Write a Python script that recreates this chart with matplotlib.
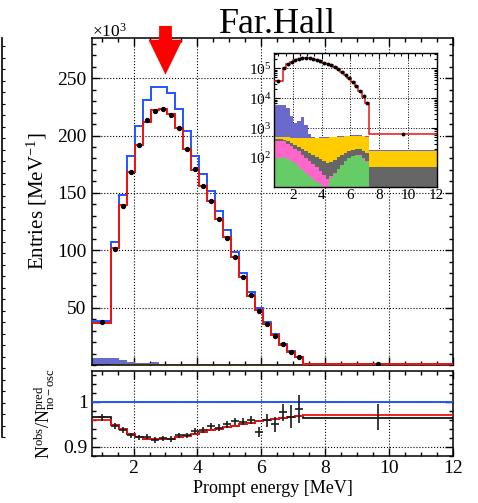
import numpy as np
import matplotlib
matplotlib.use('Agg')
import matplotlib.pyplot as plt
from matplotlib.ticker import MultipleLocator, FixedLocator, LogLocator, NullFormatter, NullLocator

plt.rcParams['font.family'] = ['Liberation Serif', 'DejaVu Serif']
plt.rcParams['mathtext.fontset'] = 'custom'
plt.rcParams['mathtext.rm'] = 'Liberation Serif'
plt.rcParams['mathtext.it'] = 'Liberation Serif:italic'
plt.rcParams['mathtext.bf'] = 'Liberation Serif:bold'

# prompt energy binning [MeV]
edges = [0.7, 1.3, 1.55, 1.8, 2.05, 2.3, 2.55, 2.8, 3.05, 3.3, 3.55, 3.8, 4.05, 4.3,
         4.55, 4.8, 5.05, 5.3, 5.55, 5.8, 6.05, 6.3, 6.55, 6.8, 7.05, 7.3, 12.0]

# entries per MeV, x10^3
pred_noosc = [38.5, 107, 148, 182, 208.5, 231, 242, 242.5, 237, 223.3, 203.6, 182.4, 166.8,
              151.4, 134.6, 117.5, 98.4, 80.4, 63.6, 50.0, 37.5, 26.8, 18.4, 11.8, 7.2, 0.67]
pred_osc = [37, 102, 139.3, 168.2, 192, 212, 222.5, 223, 219, 206.5, 188, 170.3, 156.3,
            143, 127.3, 111.4, 93.7, 76.8, 60.5, 47.8, 36.0, 26.0, 17.8, 11.4, 7.0, 0.65]
data_obs = [37.2, 101.2, 138.8, 168.5, 192.0, 213.2, 221.4, 222.9, 217.6, 206.8, 188.5, 170.5,
            156.4, 143.2, 126.9, 110.8, 94.2, 76.9, 61.1, 46.7, 36.0, 25.5, 18.1, 11.5, 7.1, 0.63]

# backgrounds, entries per MeV (stacked bottom to top)
bkg_green = [100, 110, 95, 80, 65, 50, 40, 32, 25, 20, 16, 13, 8, 7, 22, 30, 42, 58, 78, 98,
             115, 125, 120, 95, 75, 5]
bkg_pink = [280, 250, 205, 170, 135, 115, 90, 68, 55, 42, 32, 23, 19, 13, 2, 2, 2, 2, 2, 2,
            2, 2, 2, 2, 2, 1]
bkg_gray = [40, 40, 60, 70, 80, 75, 75, 75, 70, 66, 62, 56, 51, 50, 51, 56, 61, 65, 70, 70,
            73, 73, 73, 73, 68, 44]
bkg_yellow = [90, 120, 140, 160, 185, 215, 245, 275, 305, 332, 355, 378, 397, 410, 415, 412,
              405, 395, 380, 370, 360, 360, 365, 370, 375, 125]
bkg_acc = [5590, 5480, 4200, 2120, 1035, 1245, 1950, 800, 165, 30, 15, 15, 15, 15, 15, 15,
           15, 15, 15, 15, 15, 15, 15, 15, 15, 5]

# ratio panel
ratio_osc = [0.960, 0.949, 0.939, 0.928, 0.922, 0.918, 0.917, 0.917, 0.918, 0.921, 0.924,
             0.929, 0.933, 0.937, 0.940, 0.944, 0.947, 0.950, 0.954, 0.957, 0.960, 0.962,
             0.965, 0.967, 0.968, 0.970]
ratio_alt = [0.967, 0.949, 0.939, 0.928, 0.922, 0.918, 0.917, 0.917, 0.918, 0.921, 0.924,
             0.929, 0.933, 0.937, 0.940, 0.944, 0.947, 0.950, 0.954, 0.957, 0.960, 0.962,
             0.965, 0.967, 0.968, 0.965]
ratio_data = [0.966, 0.946, 0.9375, 0.926, 0.921, 0.923, 0.915, 0.919, 0.918, 0.926, 0.926,
              0.935, 0.9375, 0.946, 0.943, 0.950, 0.957, 0.956, 0.960, 0.933, 0.959, 0.950,
              0.977, 0.967, 0.985, 0.967]
ratio_err = [0.008, 0.006, 0.006, 0.006, 0.006, 0.006, 0.006, 0.006, 0.006, 0.006, 0.006,
             0.007, 0.007, 0.007, 0.007, 0.008, 0.008, 0.008, 0.009, 0.012, 0.015, 0.017,
             0.019, 0.026, 0.031, 0.029]

arrow_energy = 3.0

edges_a = np.array(edges)
centers = 0.5 * (edges_a[:-1] + edges_a[1:])
layers = [(bkg_green, '#66cc66'), (bkg_pink, '#ff66cc'), (bkg_gray, '#666666'),
          (bkg_yellow, '#ffcc00'), (bkg_acc, '#6a6acd')]


def draw_stack(a, scale):
    base = np.full(len(centers), 1e-3)
    for vals, col in layers:
        top = base + np.array(vals) / scale
        a.stairs(top, edges_a, baseline=base, fill=True, color=col, lw=0, zorder=2)
        base = top


fig = plt.figure(figsize=(4.78, 5.03), dpi=100)

# main panel
ax = fig.add_axes([0.1925, 0.2744, 0.7552, 0.6501])
draw_stack(ax, 1000.0)
ax.stairs(pred_noosc, edges_a, baseline=None, color='#2255ff', lw=1.4, zorder=3)
ax.stairs(pred_osc, edges_a, baseline=None, color='#ee1111', lw=1.4, zorder=4)
ax.plot(centers, data_obs, 'o', color='k', ms=2.8, zorder=5)
ax.set_xlim(0.7, 12)
ax.set_ylim(0, 285)
ax.xaxis.set_major_locator(MultipleLocator(2))
ax.xaxis.set_minor_locator(MultipleLocator(0.5))
ax.yaxis.set_major_locator(FixedLocator([50, 100, 150, 200, 250]))
ax.yaxis.set_minor_locator(MultipleLocator(10))
ax.tick_params(which='both', direction='in', top=True, right=True, labelbottom=False,
               labelsize=14, width=1.0)
ax.tick_params(which='major', length=6, pad=4)
ax.tick_params(which='minor', length=3)
ax.grid(True, ls=':', color='k', lw=0.8, zorder=1)
ax.set_axisbelow(True)
for s in ax.spines.values():
    s.set_linewidth(1.1)
ax.set_ylabel('Entries [MeV$^{-1}$]', fontsize=15)
ax.yaxis.set_label_coords(-0.12, 0.5)
ax.arrow(arrow_energy, 295.5, 0, -42.5, width=0.4, head_width=1.06, head_length=30.5,
         length_includes_head=True, color='#ff0000', lw=0, clip_on=False, zorder=6)

fig.text(0.1925, 0.928, r'$\times$10$^{3}$', fontsize=12.5, ha='left', va='baseline')
fig.text(0.58, 0.934, 'Far.Hall', fontsize=26, ha='center', va='baseline')

# inset (log scale)
axi = fig.add_axes([0.5732, 0.6292, 0.3404, 0.2664])
axi.set_facecolor('white')
draw_stack(axi, 1.0)
axi.stairs(np.array(pred_osc) * 1000, edges_a, baseline=None, color='#ee1111', lw=1.1, zorder=4)
axi.plot(centers, np.array(data_obs) * 1000, 'o', color='k', ms=1.8, zorder=5)
axi.set_yscale('log')
axi.set_xlim(0.7, 12)
axi.set_ylim(11, 3.4e5)
axi.xaxis.set_major_locator(MultipleLocator(2))
axi.xaxis.set_minor_locator(MultipleLocator(0.5))
axi.yaxis.set_major_locator(LogLocator(base=10, numticks=10))
axi.yaxis.set_minor_locator(LogLocator(base=10, subs=np.arange(2, 10), numticks=20))
axi.yaxis.set_minor_formatter(NullFormatter())
axi.tick_params(which='both', direction='in', top=True, right=True, labelsize=11, width=0.8, pad=2)
axi.tick_params(which='major', length=4)
axi.tick_params(which='minor', length=2)
axi.grid(True, which='major', ls=':', color='k', lw=0.7, zorder=1)
axi.set_axisbelow(True)
for s in axi.spines.values():
    s.set_linewidth(1.0)

# ratio panel
ax2 = fig.add_axes([0.1925, 0.0934, 0.7552, 0.169])
ax2.axhline(1.0, color='#2255ff', lw=1.4, zorder=3)
ax2.stairs(ratio_alt, edges_a, baseline=None, color='k', lw=1.2, zorder=3)
ax2.stairs(ratio_osc, edges_a, baseline=None, color='#ee1111', lw=1.3, zorder=4)
xerr = [0.12] * (len(centers) - 1) + [0.0]
ax2.errorbar(centers, ratio_data, yerr=ratio_err, xerr=xerr, fmt='none', ecolor='#1a1a1a',
             elinewidth=1.2, zorder=5)
ax2.set_xlim(0.7, 12)
ax2.set_ylim(0.88, 1.068)
ax2.xaxis.set_major_locator(MultipleLocator(2))
ax2.xaxis.set_minor_locator(MultipleLocator(0.5))
ax2.yaxis.set_major_locator(FixedLocator([0.9, 1.0]))
ax2.yaxis.set_minor_locator(MultipleLocator(0.02))
ax2.set_yticklabels(['0.9', '1'])
ax2.tick_params(which='both', direction='in', top=True, right=True, labelsize=14, width=1.0)
ax2.tick_params(which='major', length=6, pad=3)
ax2.tick_params(which='minor', length=3)
ax2.grid(True, ls=':', color='k', lw=0.8, zorder=1)
ax2.set_axisbelow(True)
for s in ax2.spines.values():
    s.set_linewidth(1.1)
ax2.set_xlabel('Prompt energy [MeV]', fontsize=13, labelpad=2)
ax2.set_ylabel(r'N$^{\rm obs}$/N$^{\rm pred}_{\rm no-osc}$', fontsize=13)
ax2.yaxis.set_label_coords(-0.097, 0.5)

# edge of the neighbouring panel
axe = fig.add_axes([-0.01, 0.1312, 0.014, 0.793])
for k in ['left', 'top', 'bottom']:
    axe.spines[k].set_visible(False)
axe.spines['right'].set_linewidth(1.2)
axe.set_ylim(0, 34.7)
axe.yaxis.set_major_locator(MultipleLocator(1))
axe.xaxis.set_major_locator(NullLocator())
axe.yaxis.tick_right()
axe.tick_params(axis='y', direction='out', length=2.5, labelright=False, width=0.8)
axe.patch.set_visible(False)

fig.savefig('out.png', dpi=100)
